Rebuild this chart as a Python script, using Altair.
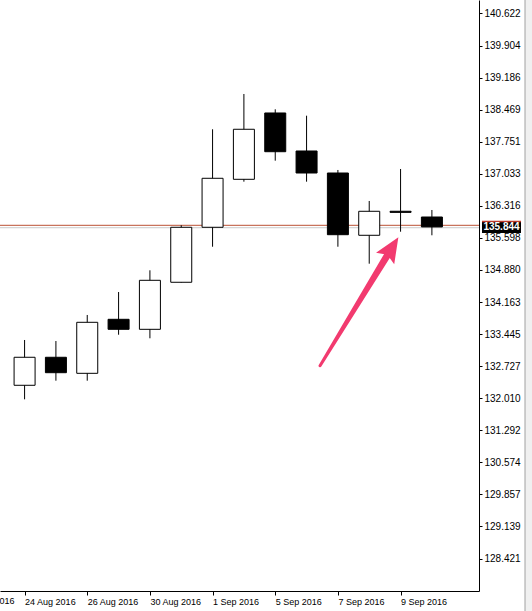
import altair as alt
import pandas as pd

# ---- data ----
dates = ["24 Aug 2016", "25 Aug 2016", "26 Aug 2016", "29 Aug 2016", "30 Aug 2016",
         "31 Aug 2016", "1 Sep 2016", "2 Sep 2016", "5 Sep 2016", "6 Sep 2016",
         "7 Sep 2016", "8 Sep 2016", "9 Sep 2016", "12 Sep 2016"]
opens  = [132.299, 132.926, 132.567, 133.776, 133.552, 134.605, 135.836, 136.910,
          138.395, 137.544, 137.051, 135.657, 136.195, 136.066]
highs  = [133.313, 133.290, 133.873, 134.387, 134.873, 135.881, 138.030, 138.820,
          138.477, 138.334, 137.119, 136.425, 137.141, 136.223]
lows   = [131.985, 132.402, 132.402, 133.431, 133.351, 134.600, 135.401, 136.857,
          137.327, 136.857, 135.401, 135.021, 135.737, 135.657]
closes = [132.926, 132.581, 133.709, 133.552, 134.649, 135.836, 136.933, 138.030,
          137.528, 137.051, 135.670, 136.194, 136.170, 135.844]

ytick_values = [140.622, 139.904, 139.186, 138.469, 137.751, 137.033, 136.316, 135.598,
                134.880, 134.163, 133.445, 132.727, 132.010, 131.292, 130.574, 129.857,
                129.139, 128.421]
xtick_index = [0, 2, 4, 6, 8, 10, 12]
prev_label = ["22 Aug 2016"]
prev_index = [-2]

current_price = [135.844]

# arrow annotation (tail -> tip), in candle index / price units
arrow_idx = [9.43, 11.93]
arrow_price = [132.737, 135.612]

# ---- tables ----
df = pd.DataFrame({"idx": list(range(len(dates))), "date": dates,
                   "open": opens, "high": highs, "low": lows, "close": closes})

label_arr = "[" + ",".join("'" + d + "'" for d in dates) + "]"

xscale = alt.Scale(domain=[-0.625, 14.34375], nice=False, zero=False)
yscale = alt.Scale(domain=[127.694, 140.924], nice=False, zero=False)

FONT = "Liberation Sans"
XFONT = "Liberation Sans"
XSIZE = 9

xaxis = alt.Axis(values=xtick_index, labelExpr=label_arr + "[datum.value]",
                 labelAlign="left", labelBaseline="top", labelPadding=2, tickSize=4,
                 labelFont=XFONT, labelFontSize=XSIZE, labelColor="black",
                 domainColor="black", tickColor="black", grid=False, title=None,
                 labelFlush=False, labelOverlap=False)
yaxis = alt.Axis(orient="right", values=ytick_values, format=".3f",
                 labelPadding=2, tickSize=3, labelFont=FONT, labelFontSize=10,
                 labelColor="black", domainColor="black", tickColor="black",
                 grid=False, title=None, labelOverlap=False, labelFlush=False)

X = lambda f: alt.X(f, scale=xscale, axis=xaxis)
Y = lambda f: alt.Y(f, scale=yscale, axis=yaxis)

base = alt.Chart(df)

wicks = base.mark_rule(color="black", strokeWidth=1).encode(
    x=X("idx:Q"), y=Y("low:Q"), y2="high:Q")

bodies = base.mark_bar(width=21, stroke="black", strokeWidth=1, orient="vertical").encode(
    x=X("idx:Q"), y=Y("open:Q"), y2="close:Q",
    fill=alt.condition("datum.open < datum.close", alt.value("white"), alt.value("black")),
)

price_df = pd.DataFrame({"price": current_price, "txt": ["%.3f" % p for p in current_price]})
pbase = alt.Chart(price_df)

price_red = pbase.mark_rule(color="#c8735c", strokeWidth=1.2, yOffset=-1.5).encode(
    y=Y("price:Q"), x=alt.value(0), x2=alt.value(479))
price_gray = pbase.mark_rule(color="#c9c9c9", strokeWidth=1, yOffset=0.8).encode(
    y=Y("price:Q"), x=alt.value(0), x2=alt.value(479))

box_shape = "M-1.625,-0.5H1.625V0.5H-1.625Z"
price_box = pbase.mark_point(shape=box_shape, size=576, filled=True, opacity=1,
                             color="black", strokeWidth=0).encode(
    y=Y("price:Q"), x=alt.value(501.5))
price_box_top = pbase.mark_rule(color="#c0392b", strokeWidth=1.5, yOffset=-5.5).encode(
    y=Y("price:Q"), x=alt.value(482), x2=alt.value(521))
price_text = pbase.mark_text(color="white", font=FONT, fontSize=10, fontWeight="bold",
                             align="center", baseline="middle", dy=0.5).encode(
    y=Y("price:Q"), x=alt.value(501.5), text="txt:N")

prev_df = pd.DataFrame({"idx": prev_index, "label": prev_label})
prev_text = alt.Chart(prev_df).mark_text(align="left", baseline="top", dx=2, font=XFONT,
                                         fontSize=XSIZE, color="black").encode(
    x=X("idx:Q"), y=alt.value(597), text="label:N")

# arrow
shaft_end = 0.86
arr_df = pd.DataFrame({
    "idx": [arrow_idx[0], arrow_idx[0] + shaft_end * (arrow_idx[1] - arrow_idx[0])],
    "price": [arrow_price[0], arrow_price[0] + shaft_end * (arrow_price[1] - arrow_price[0])],
    "w": [3, 7],
})
ARROW = "#f23a6f"
shaft = alt.Chart(arr_df).mark_trail(color=ARROW).encode(
    x=X("idx:Q"), y=Y("price:Q"),
    size=alt.Size("w:Q", scale=None, legend=None))
tip_df = pd.DataFrame({"idx": [arrow_idx[1]], "price": [arrow_price[1]]})
head_shape = "M0,0L0.75,1.75L0,1.45L-0.75,1.75Z"
head = alt.Chart(tip_df).mark_point(shape=head_shape, size=816, angle=32, filled=True,
                                    opacity=1, color=ARROW, strokeWidth=0).encode(
    x=X("idx:Q"), y=Y("price:Q"))

# window edge strip on the right
edge_df = pd.DataFrame({"k": [0]})
edge_fill = alt.Chart(edge_df).mark_rect(color="#f0f0f0").encode(
    x=alt.value(525), x2=alt.value(532), y=alt.value(0), y2=alt.value(611))
edge_line = alt.Chart(edge_df).mark_rule(color="#a0a0a0", strokeWidth=1).encode(
    x=alt.value(525), y=alt.value(0), y2=alt.value(611))

chart = alt.layer(
    edge_fill, edge_line, price_gray, price_red, wicks, bodies, shaft, head,
    price_box, price_box_top, price_text, prev_text
).properties(
    width=479, height=591,
    autosize=alt.AutoSizeParams(type="none"),
    padding={"left": 0, "top": 0, "right": 53, "bottom": 20},
    background="white",
).configure_view(strokeWidth=0).configure_axis(labelOverlap=False)

chart.save("out.html", embed_options={"renderer": "svg", "actions": False})
